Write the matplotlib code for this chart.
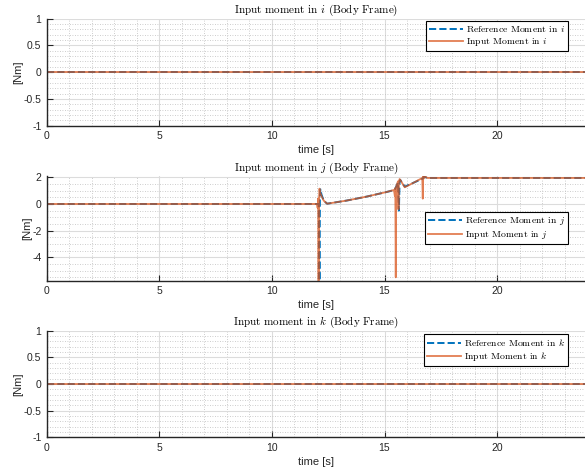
import numpy as np
import matplotlib
matplotlib.use("Agg")
import matplotlib.pyplot as plt
from matplotlib.ticker import MultipleLocator

plt.rcParams['mathtext.fontset'] = 'cm'
plt.rcParams['font.family'] = ['Liberation Sans', 'DejaVu Sans']

# time axis for the flat channels (i and k)
t_flat = [0, 24]
ref_i = [0, 0]
inp_i = [0, 0]
ref_k = [0, 0]
inp_k = [0, 0]

# channel j
t_ref_j = [0, 12.08, 12.11, 12.13, 12.15, 12.2, 12.3, 12.45, 13.3, 14.2, 15.1, 15.45,
           15.6, 15.64, 15.67, 15.7, 15.9, 16.3, 16.7, 16.75, 16.9, 24]
ref_j = [0, 0, -5.75, 0.5, 1.1, 0.7, 0.25, 0.02, 0.25, 0.55, 0.9, 1.05,
         1.6, -0.5, 1.7, 1.8, 1.3, 1.6, 1.9, 2.05, 1.95, 1.95]

t_inp_j = [0, 12.0, 12.03, 12.05, 12.07, 12.09, 12.11, 12.13, 12.2, 12.3, 12.45, 13.3,
           14.2, 15.1, 15.42, 15.46, 15.48, 15.5, 15.52, 15.56, 15.6, 15.62, 15.64,
           15.67, 15.7, 15.9, 16.3, 16.68, 16.7, 16.72, 16.74, 16.77, 16.9, 24]
inp_j = [0, 0, -0.3, 0.4, -5.75, 0.3, 1.15, 0.9, 0.6, 0.25, 0.02, 0.25,
         0.55, 0.9, 1.05, 0.6, 1.2, -5.5, 1.3, 1.5, 1.7, -0.4, 1.6,
         1.87, 1.8, 1.25, 1.6, 1.95, 0.4, 2.27, 1.9, 2.1, 1.95, 1.95]

panels = [
    ('i', t_flat, ref_i, t_flat, inp_i, (-1, 1), 0.5, 0.1, [0.0803, 0.7343, 0.9197, 0.2262]),
    ('j', t_ref_j, ref_j, t_inp_j, inp_j, (-5.75, 2.1), 2, 0.5, [0.0803, 0.4066, 0.9197, 0.2214]),
    ('k', t_flat, ref_k, t_flat, inp_k, (-1, 1), 0.5, 0.1, [0.0803, 0.0755, 0.9197, 0.2254]),
]
legend_tops = [1 - 21 / 473, 1 - 212 / 473, 1 - 334 / 473]

blue = '#0072BD'
orange = '#D95319'
dark = '#262626'

fig = plt.figure(figsize=(5.85, 4.73), dpi=100)

for n, (name, tr, yr, ti, yi, ylim, ymaj, ymin, pos) in enumerate(panels):
    ax = fig.add_axes(pos)
    ax.plot(tr, yr, '--', color=blue, lw=1.4, label=f'Reference Moment in ${name}$')
    ax.plot(ti, yi, '-', color=orange, lw=1.3, alpha=0.75, label=f'Input Moment in ${name}$')
    ax.set_xlim(0, 23.91)
    ax.set_ylim(*ylim)
    ax.xaxis.set_major_locator(MultipleLocator(5))
    ax.xaxis.set_minor_locator(MultipleLocator(1))
    ax.yaxis.set_major_locator(MultipleLocator(ymaj))
    ax.yaxis.set_minor_locator(MultipleLocator(ymin))
    ax.grid(True, which='major', color='#dcdcdc', lw=0.8)
    ax.grid(True, which='minor', color='#bdbdbd', lw=0.6, linestyle=(0, (1, 2)))
    ax.set_axisbelow(True)
    for s in ['top', 'right']:
        ax.spines[s].set_visible(False)
    for s in ['left', 'bottom']:
        ax.spines[s].set_color(dark)
        ax.spines[s].set_linewidth(1.0)
    ax.tick_params(which='major', direction='in', length=4, width=0.8, colors=dark,
                   labelsize=7.5, labelcolor=dark, pad=4)
    ax.tick_params(which='minor', length=0)
    ax.yaxis.set_major_formatter(matplotlib.ticker.FuncFormatter(lambda v, p: f'{v:g}'))
    ax.set_xlabel('time [s]', fontsize=8, color=dark, labelpad=3)
    ax.set_ylabel('[Nm]', fontsize=8, color=dark, labelpad=0)
    ax.set_title(f'Input moment in ${name}$ (Body Frame)', fontsize=8,
                 fontfamily='cmr10', pad=4)
    leg = ax.legend(loc='upper right', bbox_to_anchor=(568 / 585, legend_tops[n]),
                    bbox_transform=fig.transFigure, fancybox=False,
                    framealpha=1, edgecolor='black', handlelength=3.5,
                    borderpad=0.3, labelspacing=0.25, handletextpad=0.3,
                    borderaxespad=0, prop={'family': 'cmr10', 'size': 7})
    leg.get_frame().set_linewidth(0.8)

fig.savefig('out.png', dpi=100)
